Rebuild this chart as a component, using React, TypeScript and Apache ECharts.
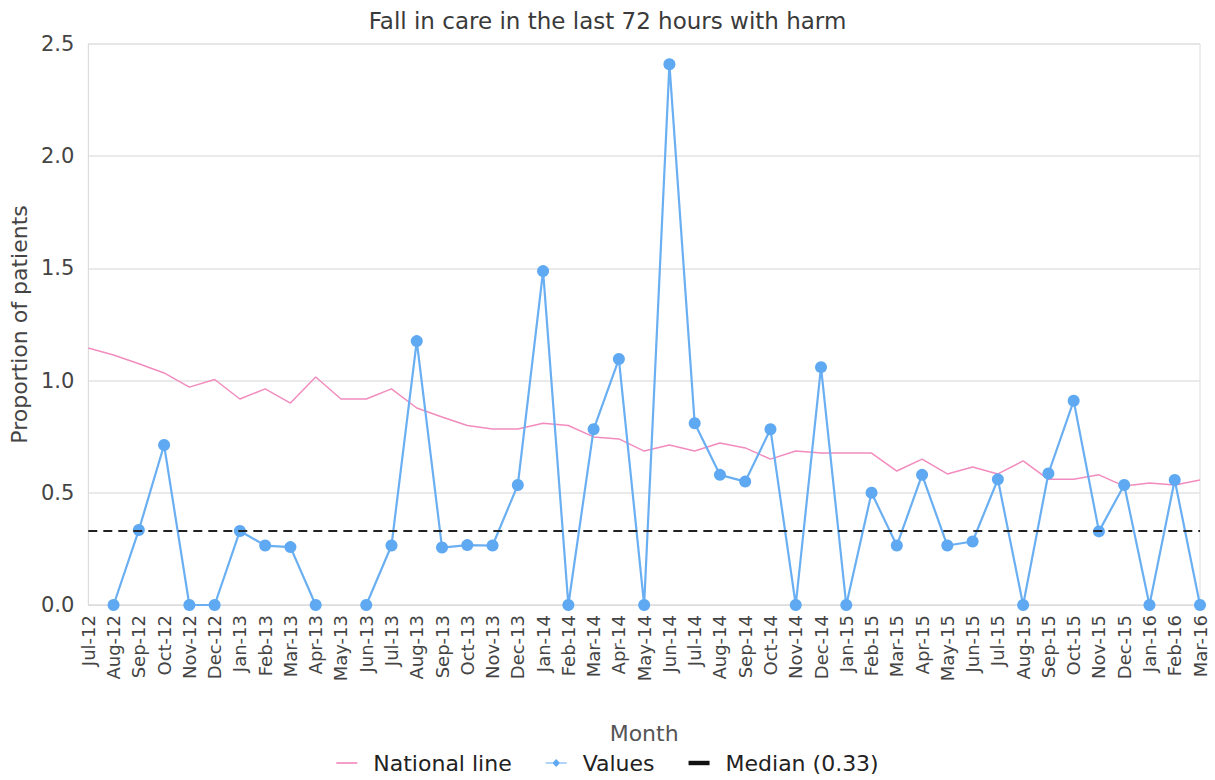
import React, { useEffect, useRef } from "react";
import * as echarts from "echarts";

const months = [
  "Jul-12", "Aug-12", "Sep-12", "Oct-12", "Nov-12", "Dec-12",
  "Jan-13", "Feb-13", "Mar-13", "Apr-13", "May-13", "Jun-13",
  "Jul-13", "Aug-13", "Sep-13", "Oct-13", "Nov-13", "Dec-13",
  "Jan-14", "Feb-14", "Mar-14", "Apr-14", "May-14", "Jun-14",
  "Jul-14", "Aug-14", "Sep-14", "Oct-14", "Nov-14", "Dec-14",
  "Jan-15", "Feb-15", "Mar-15", "Apr-15", "May-15", "Jun-15",
  "Jul-15", "Aug-15", "Sep-15", "Oct-15", "Nov-15", "Dec-15",
  "Jan-16", "Feb-16", "Mar-16",
];

const nationalLine = [
  1.145, 1.114, 1.075, 1.034, 0.971, 1.005,
  0.918, 0.963, 0.9, 1.016, 0.918, 0.918,
  0.963, 0.878, 0.838, 0.8, 0.784, 0.784,
  0.81, 0.8, 0.749, 0.74, 0.686, 0.713,
  0.686, 0.722, 0.7, 0.65, 0.686, 0.677,
  0.677, 0.677, 0.597, 0.65, 0.584, 0.615,
  0.584, 0.642, 0.56, 0.56, 0.58, 0.53,
  0.544, 0.535, 0.557,
];

const values: (number | null)[] = [
  null, 0, 0.334, 0.713, 0, 0,
  0.33, 0.265, 0.258, 0, null, 0,
  0.265, 1.176, 0.256, 0.267, 0.265, 0.535,
  1.488, 0, 0.783, 1.096, 0, 2.41,
  0.81, 0.58, 0.55, 0.783, 0, 1.06,
  0, 0.5, 0.265, 0.58, 0.265, 0.283,
  0.56, 0, 0.586, 0.91, 0.328, 0.535,
  0, 0.557, 0,
];

const medianValue = 0.33;
const yTicks = { min: 0, max: 2.5, interval: 0.5 };

const FONT = "DejaVu Sans";

export default function App() {
  const ref = useRef<HTMLDivElement>(null);
  useEffect(() => {
    if (!ref.current) return;
    const chart = echarts.init(ref.current, undefined, { renderer: "svg" });
    const medianData = months.map(() => medianValue);
    chart.setOption({
      animation: false,
      backgroundColor: "#fff",
      textStyle: { fontFamily: FONT },
      title: {
        text: "Fall in care in the last 72 hours with harm",
        left: "center",
        top: 4,
        textStyle: { fontFamily: FONT, fontSize: 23, fontWeight: "normal", color: "#3a3a3a" },
      },
      grid: {
        left: 88,
        right: 15,
        top: 44,
        bottom: 175,
        show: true,
        borderColor: "#dcdcdc",
        borderWidth: 1,
      },
      legend: {
        bottom: 1,
        left: "center",
        itemGap: 34,
        itemWidth: 21,
        itemHeight: 10,
        symbolKeepAspect: true,
        textStyle: { fontFamily: FONT, fontSize: 22, color: "#222", padding: [0, 0, 0, 11] },
        data: [
          { name: "National line", icon: "path://M0,0H20V1.6H0Z" },
          { name: "Values", icon: "path://M0,3.6H22V4.9H0Z M11,0L15,4.25L11,8.5L7,4.25Z" },
          { name: "Median (0.33)", icon: "path://M0,0H19V4H0Z" },
        ],
      },
      xAxis: {
        type: "category",
        data: months,
        boundaryGap: false,
        name: "Month",
        nameLocation: "middle",
        nameGap: 117,
        nameTextStyle: { fontFamily: FONT, fontSize: 22, color: "#555" },
        axisLine: { lineStyle: { color: "#dcdcdc" } },
        axisTick: { show: false },
        axisLabel: {
          rotate: 90,
          interval: 0,
          fontFamily: FONT,
          fontSize: 18,
          color: "#444",
          margin: 10,
        },
        splitLine: { show: false },
      },
      yAxis: {
        type: "value",
        min: yTicks.min,
        max: yTicks.max,
        interval: yTicks.interval,
        name: "Proportion of patients",
        nameLocation: "middle",
        nameGap: 57,
        nameTextStyle: { fontFamily: FONT, fontSize: 22, color: "#444" },
        axisLine: { show: true, lineStyle: { color: "#dcdcdc" } },
        axisTick: { show: false },
        axisLabel: {
          fontFamily: FONT,
          fontSize: 21,
          color: "#444",
          margin: 14,
          formatter: (v: number) => v.toFixed(1),
        },
        splitLine: { lineStyle: { color: "#e3e3e3", width: 1.5 } },
      },
      series: [
        {
          name: "National line",
          type: "line",
          data: nationalLine,
          symbol: "none",
          itemStyle: { color: "#f28cbf" },
          lineStyle: { color: "#f28cbf", width: 1.5 },
          z: 2,
        },
        {
          name: "Values",
          type: "line",
          data: values,
          connectNulls: false,
          symbol: "circle",
          symbolSize: 12,
          showAllSymbol: true,
          itemStyle: { color: "#5ea9f2" },
          lineStyle: { color: "#6aaff2", width: 2.2 },
          z: 3,
        },
        {
          name: "Median (0.33)",
          type: "line",
          data: medianData,
          symbol: "none",
          itemStyle: { color: "#111" },
          lineStyle: { color: "#222", width: 2, type: [9, 6] },
          z: 4,
        },
      ],
    });
    return () => chart.dispose();
  }, []);
  return <div ref={ref} style={{ width: 1215, height: 780, position: "absolute", left: 0, top: 0 }} />;
}
